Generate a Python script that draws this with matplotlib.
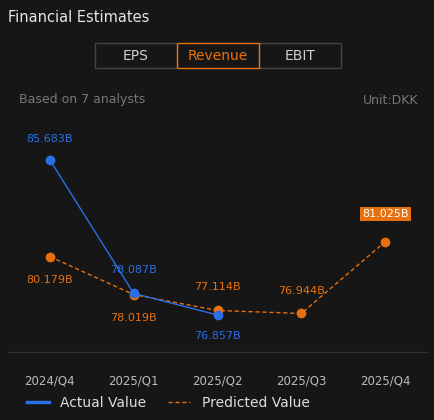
import matplotlib
matplotlib.use("Agg")
import matplotlib.pyplot as plt
from matplotlib.patches import Rectangle
from matplotlib.lines import Line2D

categories = ["2024/Q4", "2025/Q1", "2025/Q2", "2025/Q3", "2025/Q4"]
actual = [85.683, 78.087, 76.857]
predicted = [80.179, 78.019, 77.114, 76.944, 81.025]
tabs = ["EPS", "Revenue", "EBIT"]

BG = "#161616"
BLUE = "#2a6fe6"
ORANGE = "#e8700e"

W, H = 435, 420
fig = plt.figure(figsize=(W/100, H/100), dpi=100, facecolor=BG)

def fx(px): return px / W
def fy(py): return 1 - py / H

fig.text(fx(8), fy(17), "Financial Estimates", color="#e6e6e6", fontsize=10.5, va="center")
tab_x = [(95, 177), (177, 259), (259, 341)]
for (x0, x1), t in zip(tab_x, tabs):
    sel = t == "Revenue"
    fig.patches.append(Rectangle((fx(x0), fy(68)), fx(x1-x0), (68-43)/H, transform=fig.transFigure,
                                 facecolor="none", edgecolor=ORANGE if sel else "#444444", lw=1, zorder=3 if sel else 2))
    fig.text(fx((x0+x1)/2), fy(55.5), t, color=ORANGE if sel else "#d0d0d0", fontsize=10, ha="center", va="center")
fig.text(fx(19), fy(100), "Based on 7 analysts", color="#777777", fontsize=9, va="center")
fig.text(fx(418), fy(100), "Unit:DKK", color="#777777", fontsize=9, va="center", ha="right")

ax = fig.add_axes([fx(8), fy(352), fx(419), (352-120)/H])
ax.set_facecolor(BG)
ax.set_xlim(-0.5, 4.5)
ax.set_ylim(74.75, 87.96)
for s in ax.spines.values():
    s.set_visible(False)
ax.axhline(74.75, color="#333333", lw=1, clip_on=False)
ax.set_yticks([])
ax.set_xticks(range(len(categories)))
ax.set_xticklabels(categories, color="#bbbbbb", fontsize=8.5)
ax.tick_params(axis="x", length=0, pad=16)

xa = list(range(len(actual)))
xp = list(range(len(predicted)))
ax.plot(xp, predicted, color=ORANGE, lw=1, ls=(0, (3, 2)), zorder=2)
ax.plot(xp, predicted, "o", color=ORANGE, ms=6, zorder=3)
ax.plot(xa, actual, color=BLUE, lw=1, zorder=4)
ax.plot(xa, actual, "o", color=BLUE, ms=6, zorder=5)

def lab(x, y, txt, color, dy, box=False):
    kw = dict(textcoords="offset points", xytext=(0, dy), ha="center", va="center", fontsize=8)
    if box:
        ax.annotate(txt, (x, y), color="white", bbox=dict(boxstyle="square,pad=0.2", fc=ORANGE, ec="none"), **kw)
    else:
        ax.annotate(txt, (x, y), color=color, **kw)

lab(0, actual[0], "85.683B", BLUE, 15)
lab(1, actual[1], "78.087B", BLUE, 17)
lab(2, actual[2], "76.857B", BLUE, -15)
lab(0, predicted[0], "80.179B", ORANGE, -17)
lab(1, predicted[1], "78.019B", ORANGE, -17)
lab(2, predicted[2], "77.114B", ORANGE, 17)
lab(3, predicted[3], "76.944B", ORANGE, 16)
lab(4, predicted[4], "81.025B", ORANGE, 20, box=True)

handles = [Line2D([], [], color=BLUE, lw=2.5), Line2D([], [], color=ORANGE, lw=1, ls=(0, (3, 2)))]
fig.legend(handles, ["Actual Value", "Predicted Value"], loc="center", bbox_to_anchor=(fx(168), fy(403)),
           ncol=2, frameon=False, labelcolor="#dddddd", fontsize=10, handlelength=1.6, columnspacing=1.6)

fig.savefig("out.png", dpi=100, facecolor=BG)
